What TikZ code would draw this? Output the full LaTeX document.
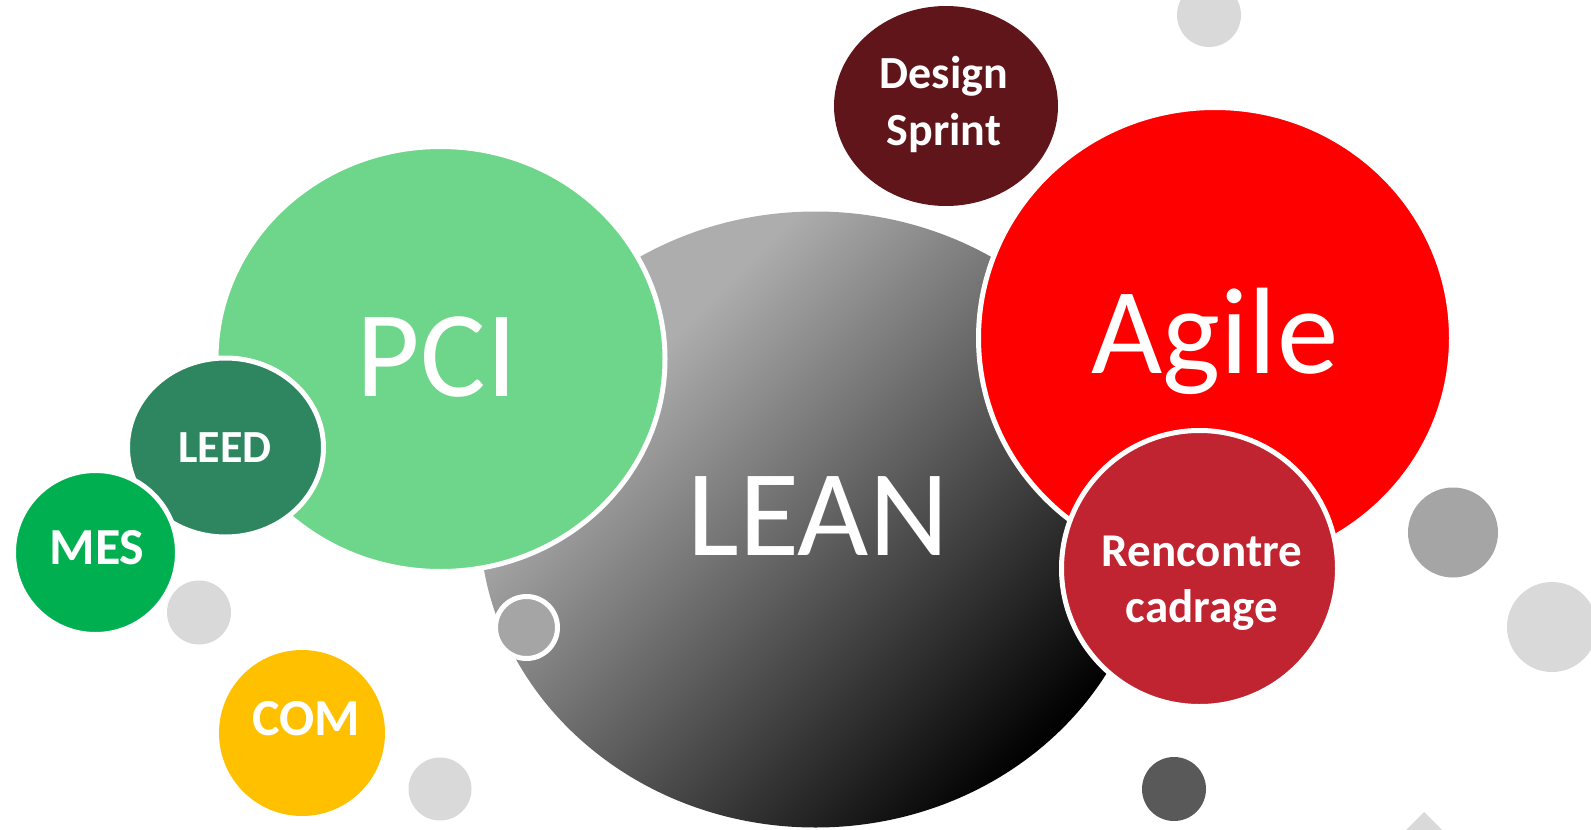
\documentclass[tikz,border=0pt]{standalone}
\usepackage{fontspec}
\setmainfont{Carlito}
\definecolor{pcigreen}{HTML}{6ED68A}
\definecolor{leedgreen}{HTML}{2E8660}
\definecolor{mesgreen}{HTML}{00B050}
\definecolor{comyellow}{HTML}{FFC000}
\definecolor{sprintred}{HTML}{5F1519}
\definecolor{agilered}{HTML}{FF0000}
\definecolor{rencred}{HTML}{BF2430}
\definecolor{lgray}{HTML}{D9D9D9}
\definecolor{mgray}{HTML}{A5A5A5}
\definecolor{dgray}{HTML}{595959}
\definecolor{leanlight}{HTML}{ADADAD}
\pgfdeclarehorizontalshading{leanshade}{100bp}{color(0bp)=(leanlight); color(32bp)=(leanlight); color(75bp)=(black); color(100bp)=(black)}
\tikzset{
  rim/.style={draw=white, line width=5pt},
  biglbl/.style={text=white, anchor=base, inner sep=0pt, font=\fontsize{123}{130}\selectfont},
  smalllbl/.style={text=white, anchor=base, inner sep=0pt, align=center},
}
\begin{document}
\begin{tikzpicture}[x=1pt,y=-1pt]
\useasboundingbox (0,0) rectangle (1591,830);
% LEAN
\shade[shading=leanshade, shading angle=-45]
  (815.5,519.5) ellipse [x radius=336pt, y radius=308pt];
\filldraw[fill=mgray, rim] (526.5,627.5) circle [radius=31pt];
% PCI
\filldraw[fill=pcigreen, rim] (440.5,359) ellipse [x radius=224.5pt, y radius=212.5pt];
% Agile
\filldraw[fill=agilered, rim] (1215,338) ellipse [x radius=236.5pt, y radius=230.5pt];
% Design Sprint
\fill[sprintred] (946,106) ellipse [x radius=112pt, y radius=100pt];
% LEED, MES
\filldraw[fill=leedgreen, rim] (225.5,447.5) ellipse [x radius=98pt, y radius=89.5pt];
\filldraw[fill=mesgreen, rim] (95.5,552.5) circle [radius=82pt];
% Rencontre
\filldraw[fill=rencred, rim] (1199.5,568.5) circle [radius=138pt];
% COM
\fill[comyellow] (302,733) circle [radius=83pt];
% small circles
\fill[lgray] (199,612.5) circle [radius=32pt];
\fill[lgray] (1209,15) circle [radius=32pt];
\fill[lgray] (440,789) circle [radius=31.5pt];
\fill[mgray] (1453,532.5) circle [radius=45pt];
\fill[lgray] (1552,627) circle [radius=45pt];
\fill[dgray] (1174,789) circle [radius=32pt];
\fill[lgray] (1424,812) -- (1464,852) -- (1424,892) -- (1384,852) -- cycle;
% labels
\node[biglbl] (pci) at (437,396) {PCI};
\node[biglbl] (lean) at (818,555) {LEAN};
\node[biglbl] (agile) at (1215,373) {Agile};
\node[smalllbl, font=\bfseries\fontsize{46}{50}\selectfont] (leed) at (225,462) {LEED};
\node[smalllbl, font=\bfseries\fontsize{52}{56}\selectfont] (mes) at (97,564) {MES};
\node[smalllbl, font=\bfseries\fontsize{52}{56}\selectfont] (com) at (306,735) {COM};
\node[smalllbl, font=\bfseries\fontsize{46}{57}\selectfont] (ds) at (944,145) {Design\\Sprint};
\node[smalllbl, font=\bfseries\fontsize{47}{56}\selectfont] (rc) at (1202,622) {Rencontre\\cadrage};
\end{tikzpicture}
\end{document}
